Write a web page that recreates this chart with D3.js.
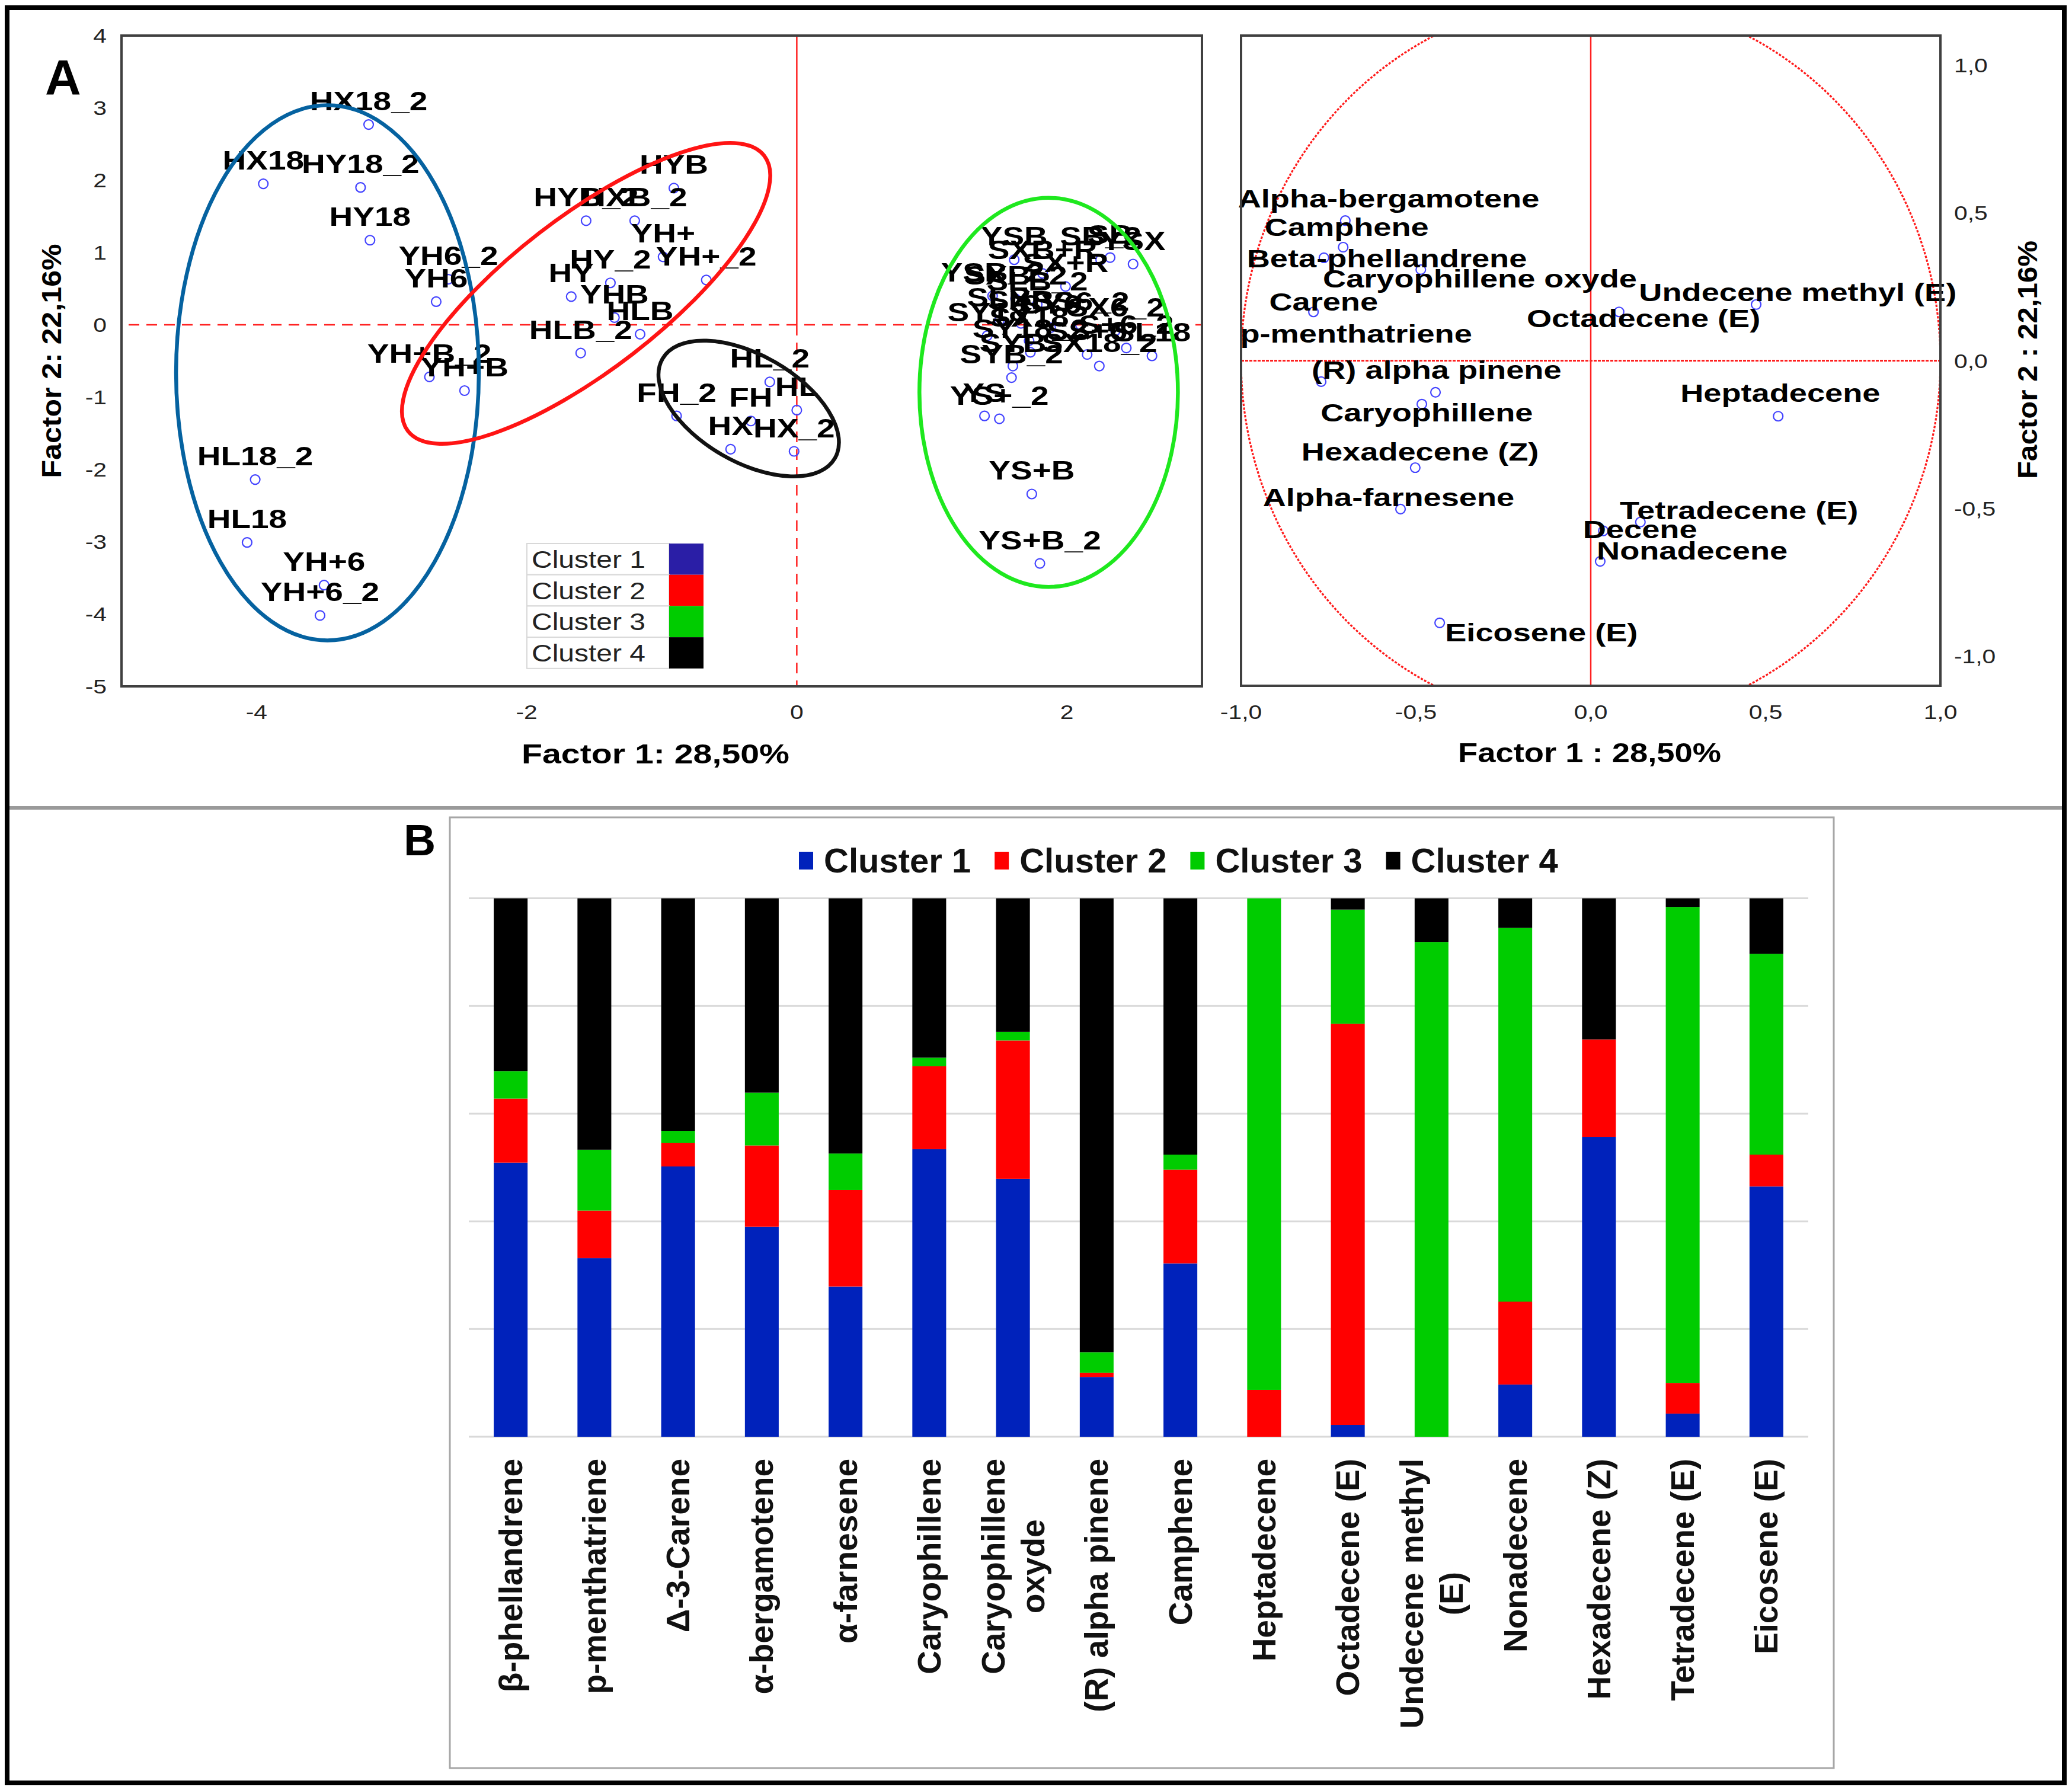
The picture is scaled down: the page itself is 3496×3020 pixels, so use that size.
<!DOCTYPE html>
<html>
<head>
<meta charset="utf-8">
<script src="https://cdn.jsdelivr.net/npm/d3@7"></script>
<style>
  body { margin: 0; background: #fff; }
  svg { display: block; font-family: "Liberation Sans", Arial, sans-serif; }
</style>
</head>
<body>
<svg id="chart" width="3496" height="3020"></svg>
<script>
// ---------- panel A : sample scores (name, factor 1, factor 2) ----------
const cluster1Samples = [
  ["HX18_2", -3.17, 2.77], ["HX18", -3.95, 1.95], ["HY18_2", -3.23, 1.90],
  ["HY18", -3.16, 1.17], ["YH6_2", -2.58, 0.63], ["YH6", -2.67, 0.32],
  ["YH+B_2", -2.72, -0.72], ["YH+B", -2.46, -0.91], ["HL18_2", -4.01, -2.14],
  ["HL18", -4.07, -3.01], ["YH+6", -3.50, -3.60], ["YH+6_2", -3.53, -4.02]
];
const cluster2Samples = [
  ["HYB", -0.91, 1.89], ["HYB_2", -1.56, 1.44], ["HXB_2", -1.20, 1.44],
  ["YH+", -0.99, 0.94], ["YH+_2", -0.67, 0.62], ["HY_2", -1.38, 0.58],
  ["HY", -1.67, 0.39], ["YHB", -1.35, 0.10], ["HLB", -1.16, -0.13],
  ["HLB_2", -1.60, -0.39]
];
const cluster3Samples = [
  ["YSB", 1.61, 0.90], ["SB_2", 2.25, 0.90], ["SB", 2.32, 0.93], ["YSX", 2.49, 0.84],
  ["SXB+R", 1.82, 0.71], ["SX+R", 1.99, 0.53], ["YSB_2", 1.45, 0.40], ["SXB_2", 1.62, 0.36],
  ["SLB_2", 1.78, 0.28], ["SLB", 1.50, 0.06], ["SXB", 1.66, 0.02], ["SY6", 1.88, -0.04],
  ["SS6_2", 2.10, 0.00], ["SX6_2", 2.36, -0.08], ["SY18", 1.41, -0.15], ["SX18", 1.72, -0.22],
  ["SY18_2", 1.73, -0.38], ["SS+6", 2.15, -0.41], ["SX18_2", 2.24, -0.57], ["S+6_2", 2.44, -0.32],
  ["SL18", 2.63, -0.43], ["SYB", 1.60, -0.57], ["SYB_2", 1.59, -0.73], ["YS", 1.39, -1.26],
  ["YS+_2", 1.50, -1.30], ["YS+B", 1.74, -2.34], ["YS+B_2", 1.80, -3.30]
];
const cluster4Samples = [
  ["HL_2", -0.20, -0.79], ["HL", 0.00, -1.18], ["FH_2", -0.89, -1.26],
  ["FH", -0.34, -1.33], ["HX", -0.49, -1.72], ["HX_2", -0.02, -1.75]
];
// cluster outlines in data units: centre x, centre y, semi-axis (x units), semi-axis (y units), tilt
const clusterOutlines = [
  [-3.475, -0.664, 1.121, 3.70, 0],
  [-1.560, 0.434, 1.667, 1.057, -37.7],
  [1.865, -0.934, 0.957, 2.69, 0],
  [-0.356, -1.158, 0.737, 0.738, 30]
];
const clusterNames = ["Cluster 1", "Cluster 2", "Cluster 3", "Cluster 4"];
const scoreTicksX = [-4, -2, 0, 2];
const scoreTicksY = [4, 3, 2, 1, 0, -1, -2, -3, -4, -5];

// ---------- panel A : variable loadings (name, f1, f2, label f1, label f2) ----------
const loadings = [
  ["Alpha-bergamotene", -0.702, 0.474, -0.578, 0.518],
  ["Camphene", -0.708, 0.384, -0.698, 0.422],
  ["Beta-phellandrene", -0.763, 0.348, -0.583, 0.316],
  ["Caryophillene oxyde", -0.486, 0.308, -0.317, 0.248],
  ["Undecene methyl (E)", 0.473, 0.190, 0.592, 0.202],
  ["Carene", -0.793, 0.165, -0.764, 0.169],
  ["Octadecene (E)", 0.081, 0.165, 0.151, 0.113],
  ["p-menthatriene", -0.771, -0.071, -0.671, 0.061],
  ["(R) alpha pinene", -0.444, -0.107, -0.441, -0.061],
  ["Heptadecene", 0.536, -0.188, 0.542, -0.139],
  ["Caryophillene", -0.483, -0.147, -0.469, -0.206],
  ["Hexadecene (Z)", -0.502, -0.362, -0.488, -0.338],
  ["Alpha-farnesene", -0.544, -0.502, -0.578, -0.492],
  ["Tetradecene (E)", 0.142, -0.546, 0.424, -0.537],
  ["Decene", 0.036, -0.576, 0.141, -0.601],
  ["Nonadecene", 0.027, -0.679, 0.290, -0.673],
  ["Eicosene (E)", -0.432, -0.887, -0.141, -0.950]
];
const loadTicks = [-1, -0.5, 0, 0.5, 1];
const unitCircle = [1, 1.23]; // radius in x units, radius in y units as drawn

// ---------- panel B : share of each compound per cluster (%) ----------
const compounds = ["β-phellandrene", "p-menthatriene", "Δ-3-Carene", "α-bergamotene", "α-farnesene",
  "Caryophillene", "Caryophillene\noxyde", "(R) alpha pinene", "Camphene", "Heptadecene",
  "Octadecene (E)", "Undecene methyl\n(E)", "Nonadecene", "Hexadecene (Z)", "Tetradecene (E)", "Eicosene (E)"];
const cluster1Share = [50.9, 33.2, 50.2, 39.0, 27.9, 53.4, 47.9, 11.1, 32.2, 0, 2.2, 0, 9.7, 55.7, 4.3, 46.5];
const cluster2Share = [11.9, 8.8, 4.4, 15.1, 17.9, 15.4, 25.7, 0.8, 17.4, 8.7, 74.5, 0, 15.4, 18.1, 5.7, 5.9];
const cluster3Share = [5.1, 11.3, 2.2, 9.8, 6.8, 1.6, 1.6, 3.8, 2.8, 91.3, 21.2, 91.9, 69.4, 0, 88.4, 37.3];
const cluster4Share = [32.1, 46.7, 43.2, 36.1, 47.4, 29.6, 24.8, 84.3, 47.6, 0, 2.1, 8.1, 5.5, 26.2, 1.6, 10.3];
const shareTicks = [0, 20, 40, 60, 80, 100];

// styles
const outlineColors = ["#0562a0", "#ff1414", "#1ee81e", "#111111"];
const legendAColors = ["#2a1ea6", "#ff0000", "#00cc00", "#000000"];
const barColors = ["#0022bb", "#ff0000", "#00cc00", "#000000"];
const SX = 1.25; // panel A text is horizontally stretched

const svg = d3.select("#chart");
svg.append("rect").attr("width", 3496).attr("height", 3020).attr("fill", "#fff");

function wideText(sel, x, y, str, size, weight, anchor, sx) {
  return sel.append("text")
    .attr("transform", `translate(${x},${y}) scale(${sx},1)`)
    .attr("text-anchor", anchor)
    .attr("font-size", size)
    .attr("font-weight", weight)
    .text(str);
}
function fmtComma(v) {
  return (v < 0 ? "-" : "") + Math.abs(v).toFixed(1).replace(".", ",");
}

// ================= panel A, scores =================
const scoreX = d3.scaleLinear().domain([-5, 3]).range([205, 2028]);
const scoreY = d3.scaleLinear().domain([-5, 4]).range([1158, 60]);
const gs = svg.append("g");

gs.append("rect").attr("x", scoreX(-5)).attr("y", scoreY(4))
  .attr("width", scoreX(3) - scoreX(-5)).attr("height", scoreY(-5) - scoreY(4)).attr("fill", "#fff");

gs.append("line").attr("x1", scoreX(-5) + 12).attr("x2", scoreX(3)).attr("y1", scoreY(0)).attr("y2", scoreY(0))
  .attr("stroke", "#ff2020").attr("stroke-width", 2.5).attr("stroke-dasharray", "18,12");
gs.append("line").attr("x1", scoreX(0)).attr("x2", scoreX(0)).attr("y1", scoreY(4)).attr("y2", scoreY(0))
  .attr("stroke", "#ff2020").attr("stroke-width", 2.5);
gs.append("line").attr("x1", scoreX(0)).attr("x2", scoreX(0)).attr("y1", scoreY(0)).attr("y2", scoreY(-5))
  .attr("stroke", "#ff2020").attr("stroke-width", 2.5).attr("stroke-dasharray", "18,12");

const allSamples = [].concat(cluster1Samples, cluster2Samples, cluster3Samples, cluster4Samples);
gs.selectAll("circle.pt").data(allSamples).join("circle").attr("class", "pt")
  .attr("cx", d => scoreX(d[1])).attr("cy", d => scoreY(d[2])).attr("r", 8)
  .attr("fill", "none").attr("stroke", "#4444ff").attr("stroke-width", 2.2);
allSamples.forEach(d => {
  wideText(gs, scoreX(d[1]), scoreY(d[2]) - 24, d[0], 44, "bold", "middle", SX).attr("fill", "#000");
});

clusterOutlines.forEach((e, i) => {
  const rx = Math.abs(scoreX(e[2]) - scoreX(0));
  const ry = Math.abs(scoreY(e[3]) - scoreY(0));
  gs.append("ellipse")
    .attr("transform", `translate(${scoreX(e[0])},${scoreY(e[1])}) rotate(${e[4]})`)
    .attr("rx", rx).attr("ry", ry)
    .attr("fill", "none").attr("stroke", outlineColors[i]).attr("stroke-width", 6.5);
});

// legend table
const legA = gs.append("g");
clusterNames.forEach((n, i) => {
  const y0 = 917 + i * 52.7;
  legA.append("rect").attr("x", 889).attr("y", y0).attr("width", 240).attr("height", 52.7)
    .attr("fill", "#fff").attr("stroke", "#d8d8d8").attr("stroke-width", 2);
  legA.append("rect").attr("x", 1129).attr("y", y0).attr("width", 58).attr("height", 52.7)
    .attr("fill", legendAColors[i]);
  wideText(legA, 897, y0 + 41, n, 40, "normal", "start", 1.2).attr("fill", "#222");
});

gs.append("rect").attr("x", scoreX(-5)).attr("y", scoreY(4))
  .attr("width", scoreX(3) - scoreX(-5)).attr("height", scoreY(-5) - scoreY(4))
  .attr("fill", "none").attr("stroke", "#404040").attr("stroke-width", 4);

scoreTicksY.forEach(v => wideText(gs, 180, scoreY(v) + 12, String(v), 34, "normal", "end", 1.2).attr("fill", "#222"));
scoreTicksX.forEach(v => wideText(gs, scoreX(v), 1213, String(v), 34, "normal", "middle", 1.2).attr("fill", "#222"));

gs.append("text").attr("x", 1106).attr("y", 1288).attr("text-anchor", "middle")
  .attr("font-size", 47).attr("font-weight", "bold")
  .attr("textLength", 452).attr("lengthAdjust", "spacingAndGlyphs").text("Factor 1: 28,50%");
gs.append("text").attr("transform", "translate(103,609) rotate(-90)").attr("text-anchor", "middle")
  .attr("font-size", 46).attr("font-weight", "bold")
  .attr("textLength", 395).attr("lengthAdjust", "spacingAndGlyphs").text("Factor 2: 22,16%");
svg.append("text").attr("x", 76).attr("y", 160).attr("font-size", 84).attr("font-weight", "bold").text("A");

// ================= panel A, loadings =================
const loadX = d3.scaleLinear().domain([-1, 1]).range([2094, 3274]);
const loadY = d3.scaleLinear().domain([-1.1, 1.1]).range([1157, 60]);
const gl = svg.append("g");

gl.append("clipPath").attr("id", "loadClip").append("rect")
  .attr("x", loadX(-1)).attr("y", loadY(1.1)).attr("width", loadX(1) - loadX(-1)).attr("height", loadY(-1.1) - loadY(1.1));

gl.append("ellipse").attr("clip-path", "url(#loadClip)")
  .attr("cx", loadX(0)).attr("cy", loadY(0))
  .attr("rx", loadX(unitCircle[0]) - loadX(0)).attr("ry", loadY(0) - loadY(unitCircle[1]))
  .attr("fill", "none").attr("stroke", "#ff1a1a").attr("stroke-width", 3.2).attr("stroke-dasharray", "4,2.5");
gl.append("line").attr("x1", loadX(-1)).attr("x2", loadX(1)).attr("y1", loadY(0)).attr("y2", loadY(0))
  .attr("stroke", "#ff2020").attr("stroke-width", 3).attr("stroke-dasharray", "5,2");
gl.append("line").attr("x1", loadX(0)).attr("x2", loadX(0)).attr("y1", loadY(1.1)).attr("y2", loadY(-1.1))
  .attr("stroke", "#ff2020").attr("stroke-width", 2.5);

gl.selectAll("circle.ld").data(loadings).join("circle").attr("class", "ld")
  .attr("cx", d => loadX(d[1])).attr("cy", d => loadY(d[2])).attr("r", 8)
  .attr("fill", "none").attr("stroke", "#4444ff").attr("stroke-width", 2.2);
loadings.forEach(d => {
  wideText(gl, loadX(d[3]), loadY(d[4]), d[0], 42, "bold", "middle", 1.29).attr("fill", "#000");
});

gl.append("rect").attr("x", loadX(-1)).attr("y", loadY(1.1))
  .attr("width", loadX(1) - loadX(-1)).attr("height", loadY(-1.1) - loadY(1.1))
  .attr("fill", "none").attr("stroke", "#404040").attr("stroke-width", 4);

loadTicks.forEach(v => {
  wideText(gl, loadX(v), 1213, fmtComma(v), 34, "normal", "middle", 1.2).attr("fill", "#222");
  wideText(gl, 3297, loadY(v) + 12, fmtComma(v), 34, "normal", "start", 1.2).attr("fill", "#222");
});
gl.append("text").attr("x", 2682).attr("y", 1286).attr("text-anchor", "middle")
  .attr("font-size", 47).attr("font-weight", "bold")
  .attr("textLength", 444).attr("lengthAdjust", "spacingAndGlyphs").text("Factor 1 : 28,50%");
gl.append("text").attr("transform", "translate(3437,607) rotate(-90)").attr("text-anchor", "middle")
  .attr("font-size", 46).attr("font-weight", "bold")
  .attr("textLength", 402).attr("lengthAdjust", "spacingAndGlyphs").text("Factor 2 : 22,16%");

// separator between panels
svg.append("line").attr("x1", 12).attr("x2", 3484).attr("y1", 1363).attr("y2", 1363)
  .attr("stroke", "#9a9a9a").attr("stroke-width", 6);

// ================= panel B, stacked bars =================
const gb = svg.append("g");
gb.append("rect").attr("x", 759).attr("y", 1379).attr("width", 2335).attr("height", 1604)
  .attr("fill", "#fff").attr("stroke", "#a6a6a6").attr("stroke-width", 3);
svg.append("text").attr("x", 681).attr("y", 1443).attr("font-size", 75).attr("font-weight", "bold").text("B");

const barX = d3.scaleBand().domain(compounds).range([791, 3051]).paddingInner(0.596).paddingOuter(0.298);
const barY = d3.scaleLinear().domain([0, 100]).range([2424, 1515.6]);

gb.selectAll("line.grid").data(shareTicks).join("line").attr("class", "grid")
  .attr("x1", 791).attr("x2", 3051).attr("y1", d => barY(d)).attr("y2", d => barY(d))
  .attr("stroke", "#d9d9d9").attr("stroke-width", 3);

const table = compounds.map((c, i) => ({
  name: c, c1: cluster1Share[i], c2: cluster2Share[i], c3: cluster3Share[i], c4: cluster4Share[i]
}));
const stacked = d3.stack().keys(["c1", "c2", "c3", "c4"])(table);
gb.selectAll("g.layer").data(stacked).join("g").attr("class", "layer")
  .attr("fill", (d, i) => barColors[i])
  .selectAll("rect").data(d => d).join("rect")
  .attr("x", d => barX(d.data.name)).attr("width", barX.bandwidth())
  .attr("y", d => barY(d[1])).attr("height", d => barY(d[0]) - barY(d[1]));

// category labels, wrapped lines centred on the longest one
const labelTop = 2461;
compounds.forEach(c => {
  const lines = c.split("\n");
  const mid = barX(c) + barX.bandwidth() / 2;
  const texts = lines.map((ln, i) => {
    const x = mid + (i - (lines.length - 1) / 2) * 67 + 19;
    return gb.append("text")
      .attr("text-anchor", "middle").attr("font-size", 55).attr("font-weight", "bold")
      .attr("fill", "#111").attr("data-x", x).text(ln);
  });
  const longest = d3.max(texts, t => t.node().getComputedTextLength());
  texts.forEach(t => {
    t.attr("transform", `translate(${t.attr("data-x")},${labelTop + longest / 2}) rotate(-90)`);
  });
});

// legend B
let lx = 1348;
clusterNames.forEach((n, i) => {
  gb.append("rect").attr("x", lx).attr("y", 1437).attr("width", 24).attr("height", 30).attr("fill", barColors[i]);
  const t = gb.append("text").attr("x", lx + 42).attr("y", 1472).attr("font-size", 58)
    .attr("font-weight", "bold").attr("fill", "#111").text(n);
  lx += 42 + t.node().getComputedTextLength() + 40;
});

// outer border
svg.append("rect").attr("x", 12).attr("y", 13).attr("width", 3471).attr("height", 2995)
  .attr("fill", "none").attr("stroke", "#000").attr("stroke-width", 8);
</script>
</body>
</html>
